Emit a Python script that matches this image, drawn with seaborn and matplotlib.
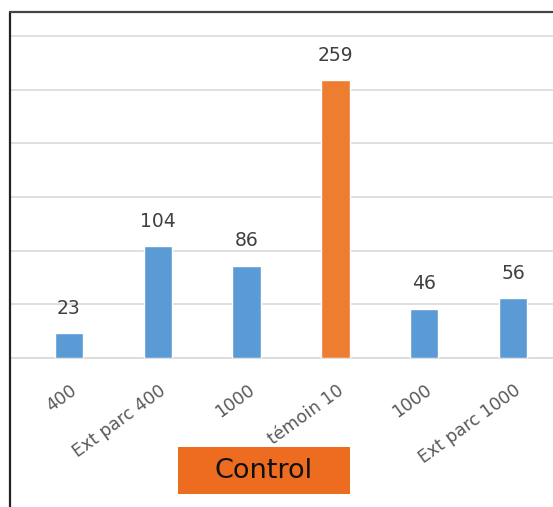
import matplotlib
matplotlib.use("Agg")
import matplotlib.pyplot as plt
import matplotlib.transforms as mtransforms
from matplotlib.patches import Rectangle
import seaborn as sns
import numpy as np
import pandas as pd

categories = ["400", "Ext parc 400", "1000", "témoin 10", "1000", "Ext parc 1000"]
values = [23, 104, 86, 259, 46, 56]
bar_colors = ["#5B9BD5", "#5B9BD5", "#5B9BD5", "#ED7D31", "#5B9BD5", "#5B9BD5"]
box_text = "Control"

sns.set_theme(style="white")
plt.rcParams["font.family"] = ["DejaVu Sans"]

W, H = 553, 507
fig = plt.figure(figsize=(W / 100, H / 100), dpi=100)
fig.patch.set_facecolor("white")

ax_left = 10 / W
ax_bottom = (H - 358) / H
ax_top = (H - 12) / H
ax = fig.add_axes([ax_left, ax_bottom, 1 - ax_left, ax_top - ax_bottom])

df = pd.DataFrame({"pos": np.arange(len(values)), "value": values})
sns.barplot(data=df, x="pos", y="value", hue="pos", palette=bar_colors,
            legend=False, width=0.32, saturation=1, ax=ax, zorder=3)

ax.set_xlim(-59 / 88.8, (553 - 69) / 88.8)
ax.set_ylim(0, 346 / 1.0733)
ax.set_yticks([0, 50, 100, 150, 200, 250, 300])
ax.set_yticklabels([])
ax.tick_params(axis="y", length=0)
ax.grid(axis="y", color="#D9D9D9", linewidth=1.2, zorder=0)
ax.set_axisbelow(True)
for s in ["top", "right", "left"]:
    ax.spines[s].set_visible(False)
ax.spines["bottom"].set_color("#D9D9D9")
ax.spines["bottom"].set_linewidth(1.2)
ax.set_xlabel("")
ax.set_ylabel("")

ax.set_xticks(np.arange(len(categories)))
ax.set_xticklabels(categories, rotation=36, ha="right", va="center",
                   rotation_mode="anchor", fontsize=12.5, color="#595959")
ax.tick_params(axis="x", length=0, pad=22)
offset = mtransforms.ScaledTranslation(6 / 100, 0, fig.dpi_scale_trans)
for lbl in ax.get_xticklabels():
    lbl.set_transform(lbl.get_transform() + offset)

for i, v in enumerate(values):
    ax.annotate(str(v), (i, v), xytext=(0, 11), textcoords="offset points",
                ha="center", va="bottom", fontsize=13.5, color="#404040")

# Control box
bx0, bx1, by0, by1 = 178, 350, 447, 494
fig.patches.append(Rectangle((bx0 / W, 1 - by1 / H), (bx1 - bx0) / W, (by1 - by0) / H,
                             transform=fig.transFigure, facecolor="#EE6C1F",
                             edgecolor="none", zorder=10))
fig.text((bx0 + bx1) / 2 / W, 1 - (by0 + by1) / 2 / H, box_text, ha="center",
         va="center", fontsize=19.5, color="#111111", zorder=11)

# outer chart border (left and top)
fig.add_artist(plt.Line2D([10 / W, 10 / W], [0, 1 - 12 / H], transform=fig.transFigure,
                          color="#222222", linewidth=1.6, zorder=12))
fig.add_artist(plt.Line2D([10 / W, 1], [1 - 12 / H, 1 - 12 / H], transform=fig.transFigure,
                          color="#444444", linewidth=1.6, zorder=12))

fig.savefig("out.png", dpi=100)
